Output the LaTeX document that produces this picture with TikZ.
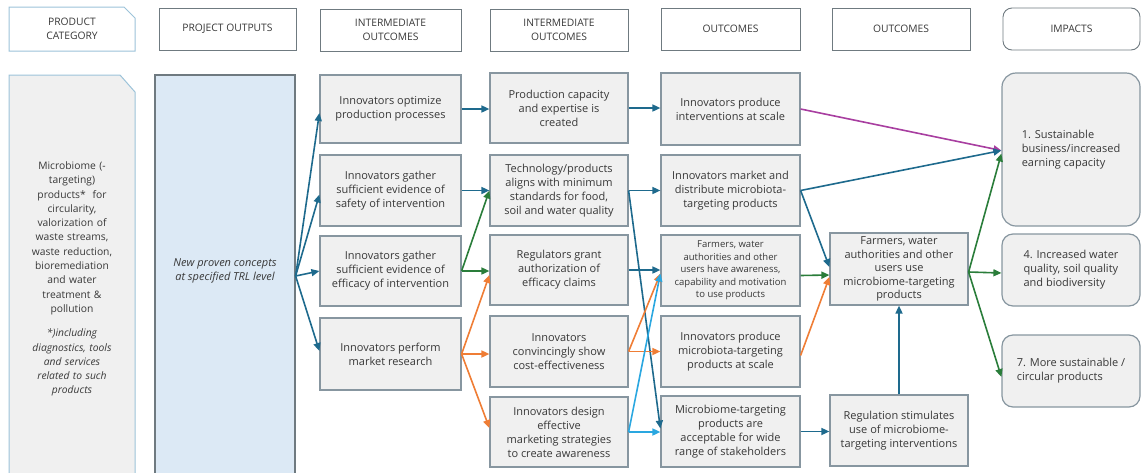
\documentclass[tikz,border=0pt]{standalone}
\usepackage{fontspec}
\setmainfont{Open Sans}
\usetikzlibrary{calc,arrows.meta,shapes.misc}
\definecolor{txt}{HTML}{383838}
\definecolor{bfill}{HTML}{F0F0F0}
\definecolor{bdraw}{HTML}{8796A0}
\definecolor{hdraw}{HTML}{6F7A80}
\definecolor{pcdraw}{HTML}{9CC3D9}
\definecolor{pofill}{HTML}{DCE9F5}
\definecolor{cdblue}{HTML}{1E6A8D}
\definecolor{cgreen}{HTML}{2A7D3A}
\definecolor{corange}{HTML}{EF7D35}
\definecolor{clblue}{HTML}{2AA7E0}
\definecolor{cmag}{HTML}{A83EA0}
\begin{document}
\begin{tikzpicture}[x=1pt,y=-1pt,
  every node/.style={font=\fontsize{11}{14}\selectfont, text=txt, align=center},
  box/.style={draw=bdraw, fill=bfill, line width=1.2pt, inner sep=1pt},
  hbox/.style={draw=hdraw, fill=white, line width=0.9pt, minimum height=42pt, font=\fontsize{10.3}{14}\selectfont},
  imp/.style={box, rounded corners=14pt, align=left},
  conn/.style={line width=1.6pt, -{Triangle[length=8pt,width=7pt]}},
  arrblue/.style={conn, cdblue}, arrgreen/.style={conn, cgreen}, arrorange/.style={conn, corange},
  arrlight/.style={conn, clblue}, arrmag/.style={conn, cmag}
]
\useasboundingbox (0,0) rectangle (1143,472);
% headers
\draw[draw=pcdraw, line width=1pt, fill=white] (9,7) -- (124,7) -- (135,18) -- (135,51) -- (9,51) -- cycle;
\node[font=\fontsize{10.3}{14}\selectfont] (hpc) at (72,29) {PRODUCT\\CATEGORY};
\node[hbox, minimum width=137pt] (hpo) at (227.5,29) {PROJECT OUTPUTS};
\node[hbox, minimum width=141pt] (hi1) at (390.5,30) {INTERMEDIATE\\OUTCOMES};
\node[hbox, minimum width=138pt] (hi2) at (559,30) {INTERMEDIATE\\OUTCOMES};
\node[hbox, minimum width=139pt] (ho1) at (730.5,29) {OUTCOMES};
\node[hbox, minimum width=138pt] (ho2) at (901,29) {OUTCOMES};
\node[hbox, minimum width=137pt, rounded corners=9pt] (him) at (1071.5,29) {IMPACTS};
% product category
\draw[draw=pcdraw, line width=1pt, fill=bfill] (9,476) -- (9,75) -- (120,75) -- (135,92) -- (135,476);
\node[text width=124pt, font=\fontsize{10.3}{14.3}\selectfont] (pc) at (72,279) {Microbiome (-\\targeting)\\products*\ \ for\\circularity,\\valorization of\\waste streams,\\waste reduction,\\bioremediation\\and water\\treatment \&\\pollution\\[10pt]\itshape *)including\\\itshape diagnostics, tools\\\itshape and services\\\itshape related to such\\\itshape products};
% project outputs
\node[box, fill=pofill, draw=hdraw, minimum width=140pt, minimum height=402pt] (po) at (225,276) {};
\node[font=\fontsize{11}{14}\selectfont\itshape] (potext) at (225,271) {New proven concepts\\at specified TRL level};
% column A
\node[box, minimum width=141pt, minimum height=68pt] (a1) at (390.5,109) {Innovators optimize\\production processes};
\node[box, minimum width=141pt, minimum height=71pt] (a2) at (390.5,190.5) {Innovators gather\\sufficient evidence of\\safety of intervention};
\node[box, minimum width=141pt, minimum height=70pt] (a3) at (390.5,271) {Innovators gather\\sufficient evidence of\\efficacy of intervention};
\node[box, minimum width=141pt, minimum height=72pt] (a4) at (390.5,354) {Innovators perform\\market research};
% column B
\node[box, minimum width=138pt, minimum height=70pt] (b1) at (559,108) {Production capacity\\and expertise is\\created};
\node[box, minimum width=138pt, minimum height=71pt] (b2) at (559,190.5) {Technology/products\\aligns with minimum\\standards for food,\\soil and water quality};
\node[box, minimum width=138pt, minimum height=70pt] (b3) at (559,270) {Regulators grant\\authorization of\\efficacy claims};
\node[box, minimum width=138pt, minimum height=71pt] (b4) at (559,351.5) {Innovators\\convincingly show\\cost-effectiveness};
\node[box, minimum width=138pt, minimum height=70pt] (b5) at (559,432) {Innovators design\\effective\\marketing strategies\\to create awareness};
% column C
\node[box, minimum width=139pt, minimum height=72pt] (c1) at (730.5,109) {Innovators produce\\interventions at scale};
\node[box, minimum width=139pt, minimum height=71pt] (c2) at (730.5,190.5) {Innovators market and\\distribute microbiota-\\targeting products};
\node[box, minimum width=139pt, minimum height=71pt, font=\fontsize{9.5}{12.5}\selectfont] (c3) at (730.5,270.5) {Farmers, water\\authorities and other\\users have awareness,\\capability and motivation\\to use products};
\node[box, minimum width=139pt, minimum height=71pt] (c4) at (730.5,351.5) {Innovators produce\\microbiota-targeting\\products at scale};
\node[box, minimum width=139pt, minimum height=71pt] (c5) at (730.5,431.5) {Microbiome-targeting\\products are\\acceptable for wide\\range of stakeholders};
% column D
\node[box, minimum width=138pt, minimum height=72pt, font=\fontsize{11}{13.6}\selectfont] (d1) at (899,269) {Farmers, water\\authorities and other\\users use\\microbiome-targeting\\products};
\node[box, minimum width=138pt, minimum height=71pt] (d2) at (899,430.5) {Regulation stimulates\\use of microbiome-\\targeting interventions};
% impacts
\node[imp, minimum width=138pt, minimum height=153pt] (e1) at (1071,149.5) {1. Sustainable\\business/increased\\earning capacity};
\node[imp, minimum width=138pt, minimum height=72pt, rounded corners=11pt] (e2) at (1071,270) {4. Increased water\\quality, soil quality\\and biodiversity};
\node[imp, minimum width=138pt, minimum height=72pt, rounded corners=11pt] (e3) at (1071,371) {7. More sustainable /\\circular products};
% connectors
\draw[arrblue] (po.east) -- ($(a1.west)+(0,4)$);
\draw[arrblue] (po.east) -- ($(a2.west)+(0,4)$);
\draw[arrblue] (po.east) -- (a3.west);
\draw[arrblue] (po.east) -- ($(a4.west)+(0,-3)$);
\draw[arrblue] (a1.east) -- (a1.east -| b1.west);
\draw[arrblue] (b1.east) -- (b1.east -| c1.west);
\draw[arrblue] (a2.east) -- (a2.east -| b2.west);
\draw[arrgreen] (a3.east) -- (b2.west);
\draw[arrgreen] (a3.east) -- (a3.east -| b3.west);
\draw[arrorange] (a4.east) -- ($(b3.west)+(0,5)$);
\draw[arrorange] (a4.east) -- (a4.east -| b4.west);
\draw[arrorange] (a4.east) -- ($(b5.west)+(0,-4)$);
\draw[arrblue] (b2.east) -- (b2.east -| c2.west);
\draw[arrblue] (b2.east) -- ($(c5.west)+(0,-3)$);
\draw[arrblue] (b3.east) -- (b3.east -| c3.west);
\draw[arrorange] (b4.east) -- ($(c3.west)+(0,3)$);
\draw[arrorange] (b4.east) -- (b4.east -| c4.west);
\draw[arrlight] (b5.east) -- ($(c3.west)+(0,3)$);
\draw[arrlight] (b5.east) -- (b5.east -| c5.west);
\draw[arrmag] (c1.east) -- ($(e1.west)+(0,1)$);
\draw[arrblue] (c2.east) -- ($(e1.west)+(0,1)$);
\draw[arrblue] (c2.east) -- ($(d1.west)+(0,-2)$);
\draw[arrgreen] ($(c3.east)+(0,5)$) -- ($(d1.west)+(0,6)$);
\draw[arrorange] ($(c4.east)+(0,4)$) -- ($(d1.west)+(0,8)$);
\draw[arrblue] (c5.east) -- (c5.east -| d2.west);
\draw[arrblue] (d2.north) -- (d1.south);
\draw[arrgreen] ($(d1.east)+(0,3)$) -- ($(e1.west)+(0,4)$);
\draw[arrgreen] ($(d1.east)+(0,3)$) -- ($(e2.west)+(0,3)$);
\draw[arrgreen] ($(d1.east)+(0,3)$) -- ($(e3.west)+(0,6)$);
\end{tikzpicture}
\end{document}
